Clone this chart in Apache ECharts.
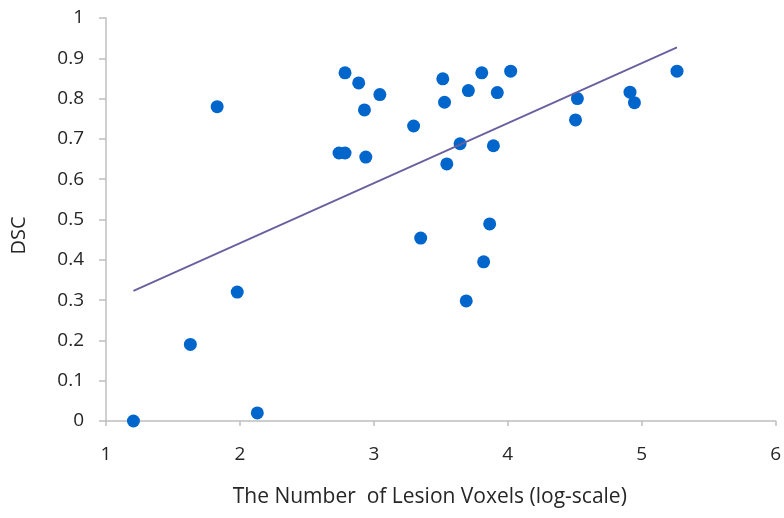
<!DOCTYPE html>
<html><head><meta charset="utf-8">
<script src="https://cdn.jsdelivr.net/npm/echarts@6/dist/echarts.min.js"></script>
<style>html,body{margin:0;padding:0;background:#fff}#c{width:784px;height:518px}</style>
</head><body><div id="c"></div>
<script>
const voxelsLog = [1.205,1.63,1.83,1.98,2.13,2.74,2.785,2.785,2.887,3.045,2.93,2.94,3.297,3.515,3.528,3.706,3.806,4.022,3.922,3.644,3.893,3.545,3.865,3.35,3.82,3.69,4.52,4.506,4.913,4.946,5.264];
const dsc = [0.0,0.19,0.78,0.32,0.02,0.665,0.665,0.864,0.839,0.81,0.772,0.655,0.732,0.849,0.791,0.82,0.864,0.868,0.815,0.688,0.683,0.638,0.489,0.454,0.395,0.298,0.80,0.747,0.816,0.79,0.868];
const trendX = [1.205,5.264];
const trendY = [0.323,0.927];
const xTicks = [1,2,3,4,5,6];
const yTicks = [0,0.1,0.2,0.3,0.4,0.5,0.6,0.7,0.8,0.9,1];

const font = 'Open Sans';
const chart = echarts.init(document.getElementById('c'));
chart.setOption({
  animation:false,
  grid:{left:106,right:8,top:18,bottom:97},
  xAxis:{type:'value',min:xTicks[0],max:xTicks[xTicks.length-1],interval:1,
    name:'The Number  of Lesion Voxels (log-scale)',nameLocation:'middle',nameGap:66,
    nameTextStyle:{fontFamily:font,fontSize:21,color:'#262626',padding:[0,22,0,0]},
    axisLine:{lineStyle:{color:'#bfbfbf',width:1.5}},axisTick:{show:true,length:5,lineStyle:{color:'#bfbfbf',width:1.5}},
    axisLabel:{fontFamily:font,fontSize:19,color:'#262626',margin:24},splitLine:{show:false}},
  yAxis:{type:'value',min:yTicks[0],max:yTicks[yTicks.length-1],interval:0.1,
    name:'DSC',nameLocation:'middle',nameGap:77,
    nameTextStyle:{fontFamily:font,fontSize:20,color:'#262626',padding:[0,32,0,0]},
    axisLine:{show:true,lineStyle:{color:'#bfbfbf',width:1.5}},axisTick:{show:true,length:7,lineStyle:{color:'#bfbfbf',width:1.5}},
    axisLabel:{fontFamily:font,fontSize:19,color:'#262626',margin:22,formatter:v=>String(Math.round(v*10)/10)},splitLine:{show:false}},
  series:[
    {type:'line',data:trendX.map((x,i)=>[x,trendY[i]]),symbol:'none',lineStyle:{color:'#6a5f9e',width:1.8},z:3},
    {type:'scatter',data:voxelsLog.map((x,i)=>[x,dsc[i]]),symbolSize:13,itemStyle:{color:'#0066cc',opacity:1},z:2}
  ]
});
</script></body></html>
